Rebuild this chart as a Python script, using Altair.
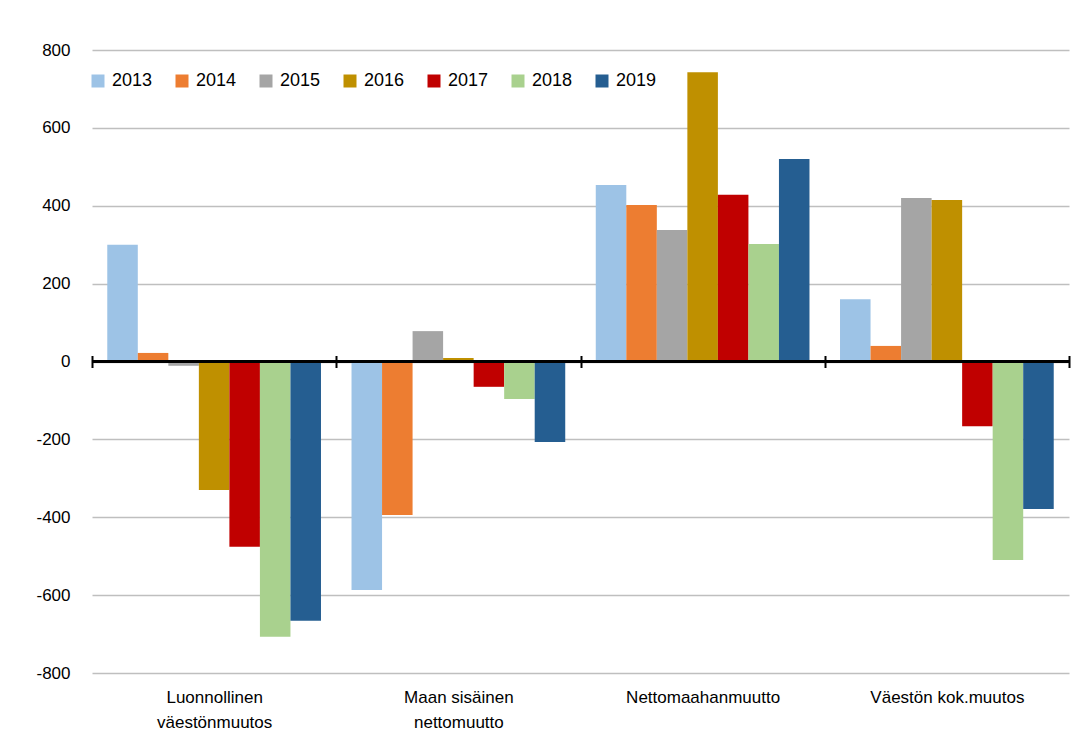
import altair as alt
import pandas as pd

categories = ["Luonnollinen väestönmuutos", "Maan sisäinen nettomuutto",
              "Nettomaahanmuutto", "Väestön kok.muutos"]
years = ["2013", "2014", "2015", "2016", "2017", "2018", "2019"]
values = {
    "2013": [300, -587, 453, 160],
    "2014": [22, -394, 402, 40],
    "2015": [-11, 78, 338, 420],
    "2016": [-330, 9, 743, 415],
    "2017": [-476, -65, 428, -166],
    "2018": [-707, -96, 302, -510],
    "2019": [-666, -207, 520, -379],
}
colors = ["#9DC3E6", "#ED7D31", "#A5A5A5", "#BF9000", "#C00000", "#A9D18E", "#255E91"]

rows = []
for y in years:
    for c, v in zip(categories, values[y]):
        rows.append({"category": c, "year": y, "value": v})
df = pd.DataFrame(rows)

FONT = "Liberation Sans"

label_expr = ("datum.label == 'Luonnollinen väestönmuutos' ? ['Luonnollinen', 'väestönmuutos'] : "
              "datum.label == 'Maan sisäinen nettomuutto' ? ['Maan sisäinen', 'nettomuutto'] : datum.label")

x_enc = alt.X("category:N", sort=categories, title=None,
              scale=alt.Scale(paddingInner=0, paddingOuter=0),
              axis=alt.Axis(orient="bottom", offset=-317.5, domain=False,
                            ticks=True, tickBand="extent", tickSize=12,
                            tickColor="#000000", tickWidth=2,
                            labelPadding=322, labelAngle=0, labelBaseline="top",
                            labelExpr=label_expr, labelLineHeight=25,
                            labelFont=FONT, labelFontSize=17, labelColor="#000000",
                            labelLimit=300))

bars = alt.Chart(df).mark_bar().encode(
    x=x_enc,
    xOffset=alt.XOffset("year:N", sort=years,
                        scale=alt.Scale(paddingInner=0, paddingOuter=0.5)),
    y=alt.Y("value:Q", title=None,
            scale=alt.Scale(domain=[-800, 800], nice=False, zero=False),
            axis=alt.Axis(values=[-800, -600, -400, -200, 0, 200, 400, 600, 800],
                          domain=False, ticks=False, labelPadding=22,
                          labelExpr="'' + datum.value",
                          grid=True, gridColor="#BFBFBF", gridWidth=1.5,
                          labelFont=FONT, labelFontSize=17, labelColor="#000000")),
    color=alt.Color("year:N", sort=years,
                    scale=alt.Scale(domain=years, range=colors),
                    legend=alt.Legend(title=None, orient="none", direction="horizontal",
                                      columns=7, legendX=-3, legendY=22,
                                      symbolType="square", symbolSize=169,
                                      symbolStrokeWidth=0, symbolOffset=0,
                                      labelFont=FONT, labelFontSize=18,
                                      labelColor="#000000", labelOffset=5,
                                      columnPadding=20)),
)

zero = alt.Chart(df).mark_rule(color="#000000", strokeWidth=2).encode(
    y=alt.datum(0)
)

chart = alt.layer(bars, zero).properties(
    width=977, height=623,
    autosize=alt.AutoSizeParams(type="none"),
    padding={"left": 84, "top": 42, "right": 4, "bottom": 75},
    background="#FFFFFF",
).configure_view(stroke=None)

chart.save("out.html", embed_options={"renderer": "svg", "actions": False})
